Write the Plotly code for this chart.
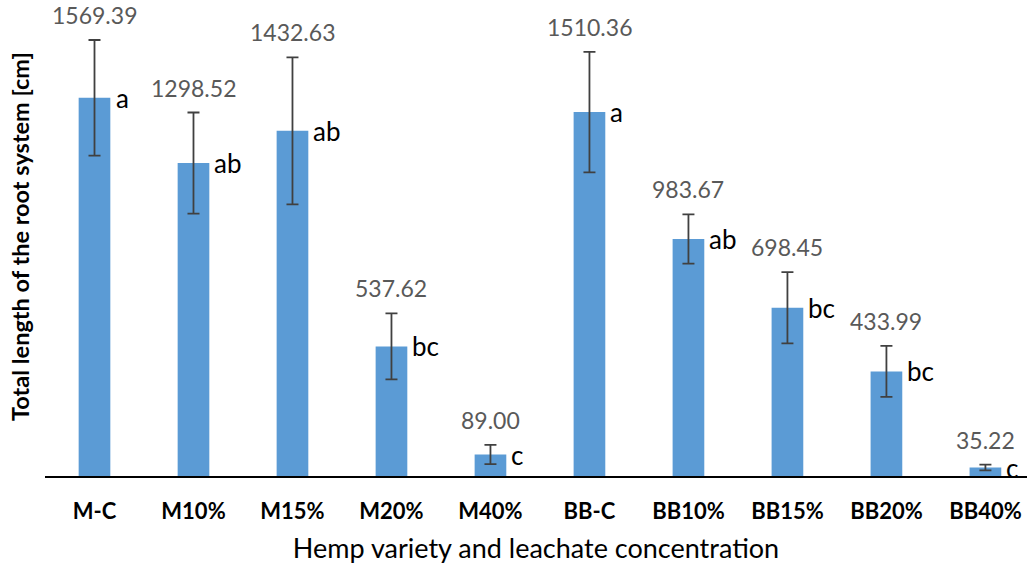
import plotly.graph_objects as go

# Total root length by hemp variety and leachate concentration
categories = ["M-C", "M10%", "M15%", "M20%", "M40%",
              "BB-C", "BB10%", "BB15%", "BB20%", "BB40%"]
means = [1569.39, 1298.52, 1432.63, 537.62, 89.00,
         1510.36, 983.67, 698.45, 433.99, 35.22]
errors = [240, 210, 305, 137, 40, 250, 102, 148, 106, 12]
letters = ["a", "ab", "ab", "bc", "c", "a", "ab", "bc", "bc", "c"]

FONT = "Lato, 'Open Sans', sans-serif"
x_pos = list(range(len(categories)))

fig = go.Figure()
fig.add_trace(go.Bar(
    x=x_pos, y=means, width=0.32,
    marker=dict(color="#5B9BD5", line=dict(width=0)),
    error_y=dict(type="data", array=errors, visible=True,
                 color="#404040", thickness=1.8, width=6),
    cliponaxis=False, showlegend=False, hoverinfo="skip",
))

annotations = []
for i, (m, e, lt) in enumerate(zip(means, errors, letters)):
    # mean value above the error bar
    annotations.append(dict(
        x=i, y=m + e, xref="x", yref="y", text=f"{m:.2f}",
        showarrow=False, yanchor="middle", yshift=25,
        font=dict(family=FONT, size=23, color="#595959"),
    ))
    # significance letter beside the bar top
    annotations.append(dict(
        x=i, y=m, xref="x", yref="y", text=lt,
        showarrow=False, xanchor="left", yanchor="middle", xshift=19,
        font=dict(family=FONT, size=26, color="#000000"),
    ))

# vertical axis title
annotations.append(dict(
    x=0, y=0.5, xref="paper", yref="paper",
    text="<b>Total length of the root system [cm]</b>",
    textangle=-90, showarrow=False, xanchor="center", yanchor="middle",
    xshift=-25, yshift=6,
    font=dict(family=FONT, size=23.5, color="#000000"),
))

fig.update_layout(
    width=1027, height=569,
    margin=dict(l=45, r=0, t=10, b=93),
    paper_bgcolor="white", plot_bgcolor="white",
    annotations=annotations,
    xaxis=dict(
        range=[-0.5, 9.42],
        tickmode="array", tickvals=x_pos,
        ticktext=[f"<b>{c}</b>" for c in categories],
        tickfont=dict(family=FONT, size=22, color="#000000"),
        ticks="outside", ticklen=15, tickcolor="rgba(0,0,0,0)",
        showline=True, linecolor="#000000", linewidth=2,
        showgrid=False, zeroline=False,
        title=dict(text="Hemp variety and leachate concentration",
                   font=dict(family=FONT, size=27, color="#000000"),
                   standoff=16),
    ),
    yaxis=dict(
        range=[0, 1934], showticklabels=False, showgrid=False,
        zeroline=False, showline=False, ticks="",
    ),
)

fig.write_html("out.html")
